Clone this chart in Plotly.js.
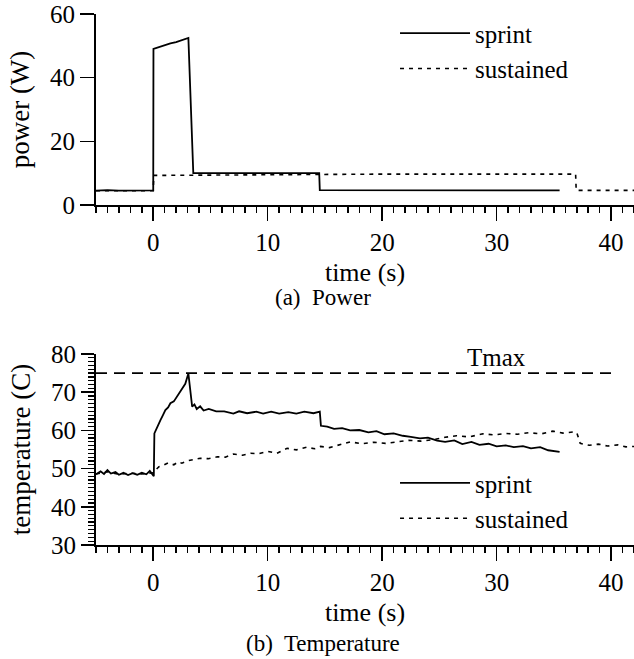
<!DOCTYPE html>
<html>
<head>
<meta charset="utf-8">
<script src="https://cdn.plot.ly/plotly-3.0.1.min.js"></script>
<style>html,body{margin:0;padding:0;background:#fff;}#chart{width:634px;height:659px;}</style>
</head>
<body>
<div id="chart"></div>
<script>
// ---- data ----
const sprintPowerT = [-5,-4,-3,-2,-1,0,0.02,0.5,1,1.5,2,2.5,3.07,3.5,5,8,11,14.5,14.55,18,22,26,30,35.5];
const sprintPower  = [4.5,4.7,4.5,4.6,4.5,4.6,49.0,49.6,50.2,50.8,51.2,51.8,52.5,10.0,10.0,9.9,10.0,10.0,4.7,4.7,4.6,4.7,4.6,4.6];

const sustPowerT = [-5,0,0.05,3.5,10,20,30,36.9,36.95,42];
const sustPower  = [4.5,4.5,9.3,9.4,9.6,9.7,9.7,9.7,4.6,4.6];

const sprintTempT = [-5,-4.6,-4.3,-4,-3.7,-3.3,-3,-2.6,-2.2,-1.8,-1.4,-1,-0.6,-0.3,0,0.05,0.1,0.34,0.63,0.85,1.06,1.3,1.5,1.8,2.08,2.3,2.52,2.8,3.07,3.25,3.4,3.6,3.8,4.1,4.4,4.85,5.5,6.2,7,7.5,8.2,9,9.6,10.3,11,11.8,12.5,13.2,14,14.55,14.65,15.2,15.8,16.5,17.2,18,18.8,19.5,20.2,21,21.8,22.5,23.3,24,24.8,25.5,26.3,27,27.8,28.5,29.3,30,30.8,31.5,32.3,33,33.8,34.5,35.2,35.5];
const sprintTemp  = [48.5,49.3,48.6,49.6,48.7,49.1,48.4,48.9,48.3,48.8,48.4,48.9,48.5,49.4,48.2,48.0,59.2,61.0,62.7,64.0,65.3,66.0,67.1,67.6,68.8,69.8,71.0,72.2,74.9,70.5,66.2,66.8,65.6,66.3,65.2,65.6,65.0,65.0,64.4,65.0,64.5,64.9,64.4,64.9,64.4,64.8,64.4,64.9,64.5,64.9,61.2,61.0,60.4,60.6,60.0,60.1,59.5,59.8,59.0,59.2,58.6,58.3,57.9,58.1,57.3,57.0,57.4,56.4,57.0,56.2,56.5,55.8,56.1,55.6,55.9,55.3,55.6,54.8,54.6,54.4];

const sustTempT = [-5,-4,-3,-2,-1,0,0.2,0.5,0.9,1.3,1.8,2.2,2.5,3.1,3.6,4.1,4.8,5.6,6.3,7,7.8,8.5,9.2,10,10.8,11.7,12.5,13.4,14.1,14.6,15.4,16.2,17.2,18.2,19.3,20.3,21.3,22.3,23.4,24.5,25.5,26.5,27.6,28.8,29.8,30.8,31.8,32.8,33.9,34.9,35.8,36.7,37.0,37.3,38.1,38.9,39.7,40.6,41.3,42];
const sustTemp  = [48.6,49.2,48.5,48.8,48.6,48.9,49.6,50.5,50.9,51.5,51.0,51.8,51.4,52.1,52.4,52.7,52.6,53.1,53.0,53.8,53.5,54.0,53.9,54.5,54.0,55.3,54.9,55.6,55.2,55.8,55.5,56.1,57.0,56.5,56.9,56.6,57.1,57.4,57.2,57.6,58.2,58.6,58.3,59.1,58.8,59.2,59.0,59.4,59.1,59.8,59.3,59.6,59.4,56.6,56.1,56.4,55.9,56.2,55.7,55.8];

const tmaxT = [-5, 40.1];
const tmaxV = [75, 75];

const timeTicks = [0, 10, 20, 30, 40];
const powerTicks = [0, 20, 40, 60];
const tempTicks = [30, 40, 50, 60, 70, 80];
const seriesNames = ['sprint', 'sustained'];

// ---- styling ----
const FONT = 'Liberation Serif, Times New Roman, serif';
const TICK = 25, TITLE = 26, YTITLE = 27, LEG = 25, CAP = 23;
const solid = {color: '#000', width: 1.8};
const dotted = {color: '#000', width: 1.6, dash: '4px,5px'};

const traces = [
  {x: sprintPowerT, y: sprintPower, name: seriesNames[0], mode: 'lines', line: solid, xaxis: 'x', yaxis: 'y', legend: 'legend'},
  {x: sustPowerT, y: sustPower, name: seriesNames[1], mode: 'lines', line: dotted, xaxis: 'x', yaxis: 'y', legend: 'legend'},
  {x: tmaxT, y: tmaxV, name: 'Tmax', mode: 'lines', line: {color: '#000', width: 1.6, dash: '11px,7px'}, xaxis: 'x2', yaxis: 'y2', showlegend: false},
  {x: sprintTempT, y: sprintTemp, name: seriesNames[0], mode: 'lines', line: solid, xaxis: 'x2', yaxis: 'y2', legend: 'legend2'},
  {x: sustTempT, y: sustTemp, name: seriesNames[1], mode: 'lines', line: dotted, xaxis: 'x2', yaxis: 'y2', legend: 'legend2'}
];

function xAxis(anchor) {
  return {
    anchor: anchor, domain: [0, 1], range: [-5, 42],
    tickmode: 'array', tickvals: timeTicks, ticktext: timeTicks.map(String),
    ticks: 'outside', ticklen: 14, tickwidth: 1.5, tickcolor: '#000',
    minor: {dtick: 1, tick0: 0, ticks: 'outside', ticklen: 6, tickwidth: 1.5, tickcolor: '#000'},
    showline: true, linewidth: 2, linecolor: '#000',
    showgrid: false, zeroline: false,
    tickfont: {family: FONT, size: TICK, color: '#000'},
    title: {text: 'time (s)', font: {family: FONT, size: TITLE, color: '#000'}, standoff: 8}
  };
}

const layout = {
  width: 634, height: 659,
  margin: {l: 96, r: 0, t: 14, b: 114},
  paper_bgcolor: '#fff', plot_bgcolor: '#fff',
  font: {family: FONT, size: TICK, color: '#000'},
  xaxis: xAxis('y'),
  xaxis2: xAxis('y2'),
  yaxis: {
    domain: [0.6403, 1], range: [0, 60],
    tickmode: 'array', tickvals: powerTicks, ticktext: powerTicks.map(String),
    ticks: 'outside', ticklen: 14, tickwidth: 1.5, tickcolor: '#000',
    showline: true, linewidth: 2, linecolor: '#000',
    showgrid: false, zeroline: false,
    tickfont: {family: FONT, size: TICK, color: '#000'},
    title: {text: 'power (W)', font: {family: FONT, size: YTITLE, color: '#000'}, standoff: 13}
  },
  yaxis2: {
    domain: [0, 0.3597], range: [30, 80],
    tickmode: 'array', tickvals: tempTicks, ticktext: tempTicks.map(String),
    ticks: 'outside', ticklen: 13, tickwidth: 1.5, tickcolor: '#000',
    minor: {dtick: 1, tick0: 0, ticks: 'outside', ticklen: 6, tickwidth: 1.2, tickcolor: '#000'},
    showline: true, linewidth: 2, linecolor: '#000',
    showgrid: false, zeroline: false,
    tickfont: {family: FONT, size: TICK, color: '#000'},
    title: {text: 'temperature (C)', font: {family: FONT, size: YTITLE, color: '#000'}, standoff: 13}
  },
  legend: {x: 0.5558, y: 1.007, xanchor: 'left', yanchor: 'top', bgcolor: 'rgba(0,0,0,0)',
           font: {family: FONT, size: LEG, color: '#000'}, itemwidth: 70, tracegroupgap: 0},
  legend2: {x: 0.5558, y: 0.16, xanchor: 'left', yanchor: 'top', bgcolor: 'rgba(0,0,0,0)',
            font: {family: FONT, size: LEG, color: '#000'}, itemwidth: 70, tracegroupgap: 0},
  annotations: [
    {text: 'Tmax', xref: 'x2', yref: 'y2', x: 30, y: 79, showarrow: false,
     xanchor: 'center', yanchor: 'middle', font: {family: FONT, size: 25, color: '#000'}},
    {text: '(a)  Power', xref: 'paper', yref: 'paper', x: 0.422, y: 0.467, showarrow: false,
     xanchor: 'center', yanchor: 'middle', font: {family: FONT, size: CAP, color: '#000'}},
    {text: '(b)  Temperature', xref: 'paper', yref: 'paper', x: 0.422, y: -0.1846, showarrow: false,
     xanchor: 'center', yanchor: 'middle', font: {family: FONT, size: CAP, color: '#000'}}
  ],
  showlegend: true
};

Plotly.newPlot('chart', traces, layout, {staticPlot: true, displayModeBar: false});
</script>
</body>
</html>
